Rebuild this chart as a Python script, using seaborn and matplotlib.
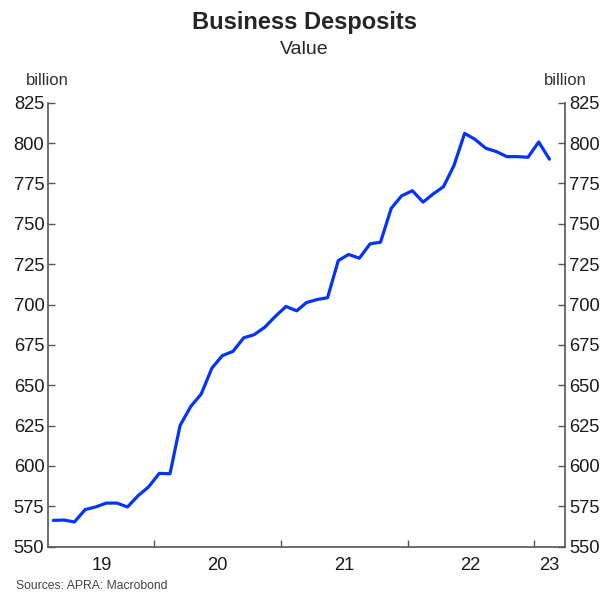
import pandas as pd
import matplotlib
matplotlib.use("Agg")
import matplotlib.pyplot as plt
import matplotlib.dates as mdates
import matplotlib.ticker as mticker
import seaborn as sns

# Business deposits, monthly, Mar 2019 - Feb 2023 (billion)
months = pd.date_range("2019-03-01", periods=48, freq="MS") + pd.Timedelta(days=14)
deposits = [
    566.3, 566.5, 565.3, 573.0, 574.6, 577.0, 577.0, 574.6, 581.6, 587.0,
    595.4, 595.2, 625.0, 636.9, 644.5, 660.6, 668.3, 671.0, 679.4, 681.3,
    686.0, 692.6, 698.8, 696.1, 701.2, 703.1, 704.2, 727.2, 731.0, 728.7,
    737.6, 738.6, 759.6, 767.3, 770.5, 763.4, 768.3, 773.0, 786.0, 806.0,
    802.3, 796.8, 794.7, 791.6, 791.6, 791.2, 800.7, 790.0,
]
year_labels = ["19", "20", "21", "22", "23"]
y_ticks = list(range(550, 826, 25))

df = pd.DataFrame({"month": months, "value": deposits})

sns.set_style("ticks")
plt.rcParams["font.family"] = ["Liberation Sans", "DejaVu Sans"]

fig = plt.figure(figsize=(6.09, 5.93), dpi=100)
ax = fig.add_axes([0.0796, 0.0781, 0.8482, 0.7487])

sns.lineplot(data=df, x="month", y="value", color="#0433FF", linewidth=2.3, ax=ax)

x0 = pd.Timestamp("2019-03-01")
x1 = pd.Timestamp("2023-04-01")
ax.set_xlim(x0, x1)
ax.set_ylim(550, 825)

# y axis on both sides
ax.set_yticks(y_ticks)
ax.tick_params(axis="y", which="major", direction="in", length=5, width=1,
               color="#555555", left=True, right=True, labelleft=True,
               labelright=True, labelsize=13.2, labelcolor="#1a1a1a", pad=3)

# year boundaries as ticks, labels centred in each year
ax.xaxis.set_major_locator(mdates.YearLocator())
ax.xaxis.set_major_formatter(mticker.NullFormatter())
bounds = [x0] + [pd.Timestamp(f"20{y}-01-01") for y in year_labels[1:]] + [x1]
centres = [mdates.date2num(bounds[i] + (bounds[i + 1] - bounds[i]) / 2)
           for i in range(len(year_labels))]
ax.xaxis.set_minor_locator(mticker.FixedLocator(centres))
ax.xaxis.set_minor_formatter(mticker.FixedFormatter(year_labels))
ax.tick_params(axis="x", which="major", direction="in", length=5, width=1,
               color="#555555")
ax.tick_params(axis="x", which="minor", length=0, pad=7.5, labelsize=13.2,
               labelcolor="#1a1a1a")

ax.set_xlabel("")
ax.set_ylabel("")
for side in ["left", "right", "bottom"]:
    ax.spines[side].set_color("#555555")
    ax.spines[side].set_linewidth(1.2)
ax.spines["top"].set_visible(False)

fig.text(0.5, 0.962, "Business Desposits", ha="center", va="center",
         fontsize=17, fontweight="bold")
fig.text(0.5, 0.917, "Value", ha="center", va="center", fontsize=14)
fig.text(0.078, 0.864, "billion", ha="center", va="center", fontsize=12,
         color="#333333")
fig.text(0.928, 0.864, "billion", ha="center", va="center", fontsize=12,
         color="#333333")
fig.text(0.026, 0.0065, "Sources: APRA: Macrobond", ha="left", va="baseline",
         fontsize=8.7, color="#444444")

fig.savefig("out.png", dpi=100)
